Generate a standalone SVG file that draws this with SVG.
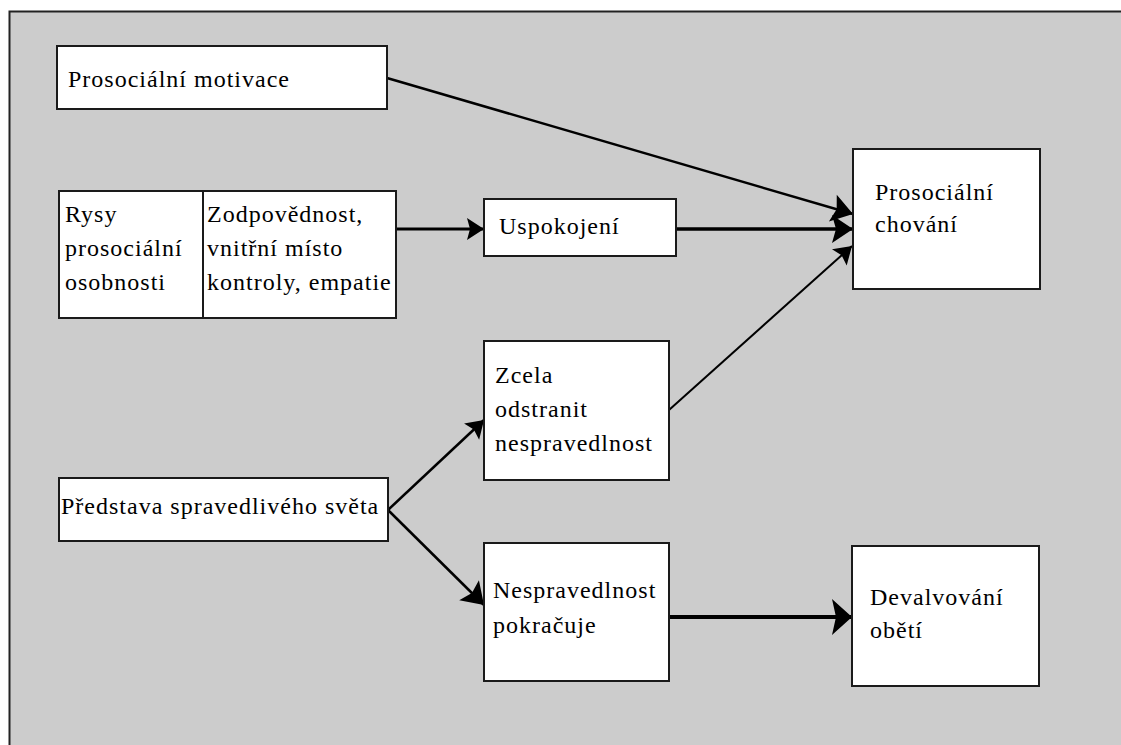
<svg xmlns="http://www.w3.org/2000/svg" width="1121" height="745" viewBox="0 0 1121 745">
  <style>
    .box { fill: #ffffff; stroke: #1a1a1a; stroke-width: 2; }
    .lbl { font-size: 24px; letter-spacing: 1px; fill: #000; }
    .edge { stroke: #000; fill: none; }
  </style>
  <defs>
    <marker id="ah-s" markerUnits="userSpaceOnUse" markerWidth="20" markerHeight="26" refX="18" refY="13" orient="auto">
      <path d="M1,2 L18,13 L1,24 L4,13 z" fill="#000"/>
    </marker>
    <marker id="ah-m" markerUnits="userSpaceOnUse" markerWidth="24" markerHeight="32" refX="22" refY="16" orient="auto">
      <path d="M1,2 L22,16 L1,30 L5,16 z" fill="#000"/>
    </marker>
    <marker id="ah-b" markerUnits="userSpaceOnUse" markerWidth="24" markerHeight="40" refX="22" refY="20" orient="auto">
      <path d="M2,2 L22,20 L2,38 L6,20 z" fill="#000"/>
    </marker>
  </defs>

  <rect x="0" y="0" width="1121" height="745" fill="#ffffff"/>
  <rect x="9" y="11" width="1112" height="734" fill="#cccccc"/>
  <path d="M9.5,745 L9.5,11.5 L1121,11.5" stroke="#222" stroke-width="2" fill="none"/>

  <g id="connectors">
    <line class="edge" x1="387" y1="78" x2="853" y2="214" stroke-width="2.5" marker-end="url(#ah-m)"/>
    <line class="edge" x1="396" y1="229" x2="484" y2="229" stroke-width="3" marker-end="url(#ah-s)"/>
    <line class="edge" x1="676" y1="229" x2="853" y2="229" stroke-width="3.5" marker-end="url(#ah-m)"/>
    <line class="edge" x1="669" y1="410" x2="852" y2="246" stroke-width="2" marker-end="url(#ah-s)"/>
    <line class="edge" x1="388" y1="510" x2="484" y2="420" stroke-width="2.5" marker-end="url(#ah-s)"/>
    <line class="edge" x1="388" y1="510" x2="484" y2="605" stroke-width="2.5" marker-end="url(#ah-m)"/>
    <line class="edge" x1="669" y1="617" x2="852" y2="617" stroke-width="4" marker-end="url(#ah-b)"/>
  </g>

  <g font-family="Liberation Serif, DejaVu Serif, serif">
  <g id="node-prosocialni-motivace">
    <rect class="box" x="57" y="46" width="330" height="63"/>
    <text class="lbl" x="68" y="87">Prosociální motivace</text>
  </g>

  <g id="node-rysy">
    <rect class="box" x="59" y="191" width="337" height="127"/>
    <line x1="203" y1="191" x2="203" y2="318" stroke="#1a1a1a" stroke-width="2"/>
    <text class="lbl" x="65" y="222">Rysy</text>
    <text class="lbl" x="65" y="256">prosociální</text>
    <text class="lbl" x="65" y="290">osobnosti</text>
    <text class="lbl" x="207" y="222">Zodpovědnost,</text>
    <text class="lbl" x="207" y="256">vnitřní místo</text>
    <text class="lbl" x="207" y="290">kontroly, empatie</text>
  </g>

  <g id="node-uspokojeni">
    <rect class="box" x="484" y="199" width="192" height="57"/>
    <text class="lbl" x="499" y="234">Uspokojení</text>
  </g>

  <g id="node-prosocialni-chovani">
    <rect class="box" x="853" y="149" width="187" height="140"/>
    <text class="lbl" x="875" y="200">Prosociální</text>
    <text class="lbl" x="875" y="232">chování</text>
  </g>

  <g id="node-zcela">
    <rect class="box" x="484" y="341" width="185" height="139"/>
    <text class="lbl" x="495" y="383">Zcela</text>
    <text class="lbl" x="495" y="417">odstranit</text>
    <text class="lbl" x="495" y="451">nespravedlnost</text>
  </g>

  <g id="node-predstava">
    <rect class="box" x="59" y="478" width="329" height="63"/>
    <text class="lbl" x="61" y="514">Představa spravedlivého světa</text>
  </g>

  <g id="node-nespravedlnost">
    <rect class="box" x="484" y="543" width="185" height="138"/>
    <text class="lbl" x="493" y="598">Nespravedlnost</text>
    <text class="lbl" x="493" y="633">pokračuje</text>
  </g>

  <g id="node-devalvovani">
    <rect class="box" x="852" y="546" width="187" height="140"/>
    <text class="lbl" x="870" y="605">Devalvování</text>
    <text class="lbl" x="870" y="638">obětí</text>
  </g>
  </g>
</svg>
